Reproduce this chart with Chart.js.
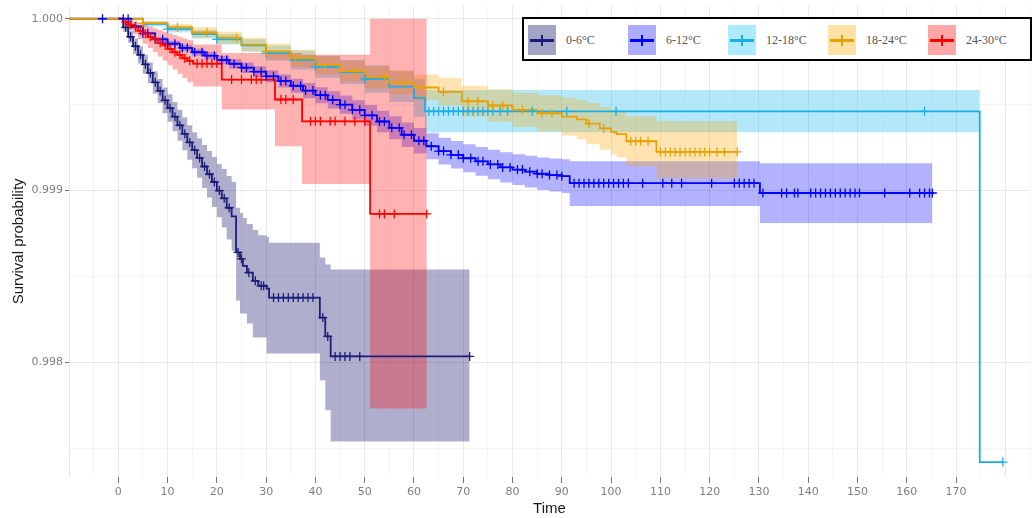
<!DOCTYPE html>
<html>
<head>
<meta charset="utf-8">
<title>Survival probability by temperature</title>
<script src="https://cdn.jsdelivr.net/npm/chart.js@4.4.0/dist/chart.umd.min.js"></script>
<style>
  body { margin: 0; background: #fff; }
  #wrap { position: relative; width: 1036px; height: 518px; }
  #legend { position: absolute; left: 522px; top: 17px; width: 506px; height: 40px; border: 2px solid #000; background: #fff; }
  .item { position: absolute; top: 6px; height: 30px; width: 100px; }
  .swatch { position: absolute; left: 0; top: 0; width: 28px; height: 30px; }
  .swatch .h { position: absolute; left: 2px; right: 2px; top: 14px; height: 2.5px; }
  .swatch .v { position: absolute; left: 13px; top: 10px; width: 2px; height: 11px; }
  .lbl { position: absolute; left: 38px; top: 8px; font: 12px 'Liberation Serif', serif; color: #555; white-space: nowrap; }
</style>
</head>
<body>
<div id="wrap">
  <canvas id="survChart" width="1036" height="518"></canvas>
  <div id="legend"></div>
</div>
<script>
// ── Groups & colours ──
const groups      = ['0-6°C', '6-12°C', '12-18°C', '18-24°C', '24-30°C'];
const lineColors  = ['#1c1c7a', '#0000ff', '#1aaee6', '#e8a200', '#ff0000'];
const bandColors  = ['rgba(25,25,112,0.35)', 'rgba(0,0,255,0.3)', 'rgba(0,180,240,0.3)', 'rgba(255,165,0,0.3)', 'rgba(255,0,0,0.3)'];
const swatchColors = ['rgba(25,25,112,0.4)', 'rgba(0,0,255,0.32)', 'rgba(0,190,250,0.32)', 'rgba(255,170,0,0.35)', 'rgba(255,0,0,0.35)'];

// ── Axis ticks ──
const xTicks = [0, 10, 20, 30, 40, 50, 60, 70, 80, 90, 100, 110, 120, 130, 140, 150, 160, 170];
const yTicks = [0.998, 0.999, 1.000];
const yTickLabels = ['0.998', '0.999', '1.000'];

// ── 0-6°C ──
const t06  = [0,1,2,3,4,5,6,7,8,9,10,11,12,13,14,15,16,17,18,19,20,21,22,23,23.9,24.7,25.3,26.1,27.3,28.4,30.1,30.6,40.9,42.0,43.1,71.3];
const s06  = [1,0.99995,0.999895,0.99984,0.99979,0.999735,0.999685,0.99963,0.99958,0.999525,0.99948,0.99943,0.99938,0.99933,0.99928,0.999235,0.99919,0.99914,0.999095,0.99905,0.999,0.998955,0.9989,0.99885,0.99864,0.998603,0.998562,0.998522,0.998475,0.998446,0.998429,0.998377,0.998261,0.998151,0.998035,0.998035];
const hi06 = [1,0.999975,0.99993,0.999885,0.99984,0.99979,0.999745,0.999695,0.99965,0.9996,0.99956,0.999515,0.99947,0.999425,0.99938,0.99934,0.999305,0.999265,0.99923,0.999195,0.999155,0.999125,0.999085,0.99905,0.9989,0.99887,0.99884,0.998806,0.99877,0.99874,0.99873,0.998696,0.99861,0.99857,0.99854,0.99854];
const lo06 = [1,0.999925,0.99986,0.999795,0.99974,0.99968,0.999625,0.999565,0.99951,0.99945,0.9994,0.999345,0.99929,0.999235,0.99918,0.99913,0.999075,0.999015,0.99896,0.998905,0.998845,0.998785,0.998715,0.99865,0.99836,0.998284,0.998284,0.998226,0.998145,0.998145,0.998052,0.998052,0.997896,0.997722,0.99754,0.99754];
const c06  = [1.5,2.5,3.5,4.5,5.5,6.5,7.5,8.5,9.5,10.5,11.5,12.5,13.5,14.5,15.5,16.5,17.5,18.5,19.5,20.5,21.5,22.5,24.3,25,26.5,27.8,29,29.5,31.5,32.5,33.5,34.5,35.5,36.5,37.5,38.5,39.5,41.5,42.5,44,45,46,47,49,71.3];

// ── 6-12°C ──
const t612  = [-10,2.5,5,7.5,10,12.5,15,17.5,20,22.5,25,27.5,30,32.5,35,37.5,40,42.5,45,47.5,50,52.5,55,57.5,60,62.5,65,67.5,70,72.5,75,77.5,80,82.5,85,87.5,90,91.6,130.2,165.2];
const s612  = [1,0.999955,0.999915,0.99988,0.999855,0.99983,0.999805,0.999785,0.99976,0.999738,0.999715,0.999692,0.999665,0.999638,0.99961,0.999582,0.999555,0.999528,0.9995,0.99947,0.999438,0.999402,0.999365,0.999325,0.99929,0.999258,0.99923,0.999208,0.999188,0.99917,0.999152,0.999135,0.999122,0.99911,0.999098,0.99909,0.999084,0.999043,0.998986,0.998986];
const hi612 = [1,0.99996,0.999924,0.999892,0.99987,0.999848,0.999825,0.999807,0.999785,0.999765,0.999745,0.999724,0.9997,0.999676,0.999651,0.999626,0.999602,0.999578,0.999553,0.999526,0.999498,0.999465,0.999432,0.999396,0.999364,0.999334,0.999308,0.999288,0.99927,0.999254,0.999238,0.999223,0.999212,0.999202,0.999192,0.999186,0.999182,0.999171,0.999159,0.999159];
const lo612 = [1,0.99995,0.999906,0.999868,0.99984,0.999812,0.999785,0.999763,0.999735,0.999711,0.999685,0.99966,0.99963,0.9996,0.999569,0.999538,0.999508,0.999478,0.999447,0.999414,0.999378,0.999339,0.999298,0.999254,0.999216,0.999182,0.999152,0.999128,0.999106,0.999086,0.999066,0.999047,0.999032,0.999018,0.999004,0.998994,0.998986,0.99891,0.998812,0.998812];
const c612  = [-3.2,1,2,3.5,5,6,7.5,9,10,11.5,13,14,15.5,17,18,19.5,21,22,23.5,25,26,27.5,29,30,31.5,33,34,35.5,37,38,39.5,41,42,43.5,45,46,47.5,49,50,51.5,53,54,55.5,57,58,59.5,61,62,63.5,65,66,67.5,69,70,71.5,73,74,75.5,77,78,79.5,81,82,83.5,85,86,87.5,89,90,92.5,93.5,94.5,95.5,96.5,97.5,98.5,99.5,100.5,101.5,102.5,103.5,106.4,110.5,112.3,114.3,120.4,125,126,127,128,129,130.8,134.6,135.6,137.2,137.9,140.5,141.5,142.5,143.5,144.5,145.5,146.5,147.5,148.5,149.5,150.4,155.5,160.6,162.6,163.6,164.6,165.2];

// ── 12-18°C ──
const t1218  = [0,5,10,15,20,25,30,35,40,45,50,55,60,62.2,174.8,179.5];
const s1218  = [1,0.99997,0.99994,0.99991,0.99988,0.999845,0.9998,0.99976,0.99972,0.99969,0.99965,0.999605,0.99954,0.999461,0.99742,0.99742];
const tb1218 = [0,5,10,15,20,25,30,35,40,45,50,55,60,62.2,174.8];
const hi1218 = [1,0.999985,0.99996,0.999935,0.99991,0.99988,0.999845,0.999815,0.999785,0.99976,0.99973,0.999695,0.99965,0.999585,0.999585];
const lo1218 = [1,0.999955,0.99992,0.999885,0.99985,0.99981,0.999755,0.999705,0.999655,0.99962,0.99957,0.999515,0.99943,0.99934,0.99934];
const c1218  = [10,20,30,40,50,63,64,65,66,67,68,69,70,71,72,73,74,75,76,77.5,79,84,91,101,163.6,179.5];

// ── 18-24°C ──
const t1824  = [-10,5,10,15,20,25,30,35,40,45,50,55,60,65,69.7,75,80,85,90,93,95,97.7,100,101.1,103.1,109.2,125.6];
const s1824  = [1,0.999975,0.99995,0.99992,0.99989,0.99985,0.99981,0.99977,0.99973,0.999695,0.99966,0.99963,0.9996,0.999575,0.99952,0.999495,0.99947,0.99945,0.99943,0.999414,0.99939,0.999362,0.99934,0.999328,0.999287,0.999225,0.999225];
const hi1824 = [1,0.999985,0.99997,0.99995,0.999925,0.99989,0.999855,0.99982,0.999785,0.999755,0.999725,0.9997,0.999675,0.999655,0.99961,0.99959,0.99957,0.999555,0.99954,0.999529,0.99951,0.999487,0.99947,0.999463,0.999432,0.999403,0.999403];
const lo1824 = [1,0.999965,0.99993,0.99989,0.999855,0.99981,0.999765,0.99972,0.999675,0.999635,0.999595,0.99956,0.999525,0.999495,0.99943,0.9994,0.99937,0.999345,0.99932,0.999299,0.99927,0.999237,0.99921,0.999193,0.999142,0.999072,0.999072];
const c1824  = [5,12,18,24,30,36,42,48,54,58,62,66,71,73,76,78,82,86,88,95.5,98.5,104,105,106,107.5,110,111,112,113,114,115,116,117,118,119,120,121.5,123,125.6];

// ── 24-30°C ──
const t2430  = [0,1,2,3,4,5,6,7,8,9,10,11,12,13,14,15.2,21.0,31.8,37.3,51.1,62.6];
const s2430  = [1,0.99998,0.999965,0.99995,0.99993,0.999913,0.999895,0.99988,0.99986,0.999845,0.999825,0.999805,0.99979,0.99977,0.999755,0.999739,0.999646,0.99953,0.999403,0.998864,0.998864];
const hi2430 = [1,0.999995,0.99999,0.999985,0.999975,0.999965,0.999955,0.999945,0.999935,0.999925,0.999915,0.999905,0.999895,0.999885,0.999875,0.99985,0.9998,0.9998,0.99979,1,1];
const lo2430 = [1,0.99996,0.999935,0.99991,0.99988,0.999855,0.99983,0.999805,0.99978,0.999755,0.99973,0.999705,0.99968,0.999655,0.99963,0.999606,0.999472,0.999258,0.999038,0.997732,0.997732];
const c2430  = [1.5,2.5,3.5,4.5,5.5,6.5,7.5,8.5,9.5,10.5,11.5,12.5,13.5,14.5,16,17,18,19,20,23,25,27,28,29,33,34,35.5,39,40,41,43,44,46,48,50,53,54,56,62.6];

const series = [
  { t: t06,   s: s06,   bt: t06,    hi: hi06,   lo: lo06,   c: c06 },
  { t: t612,  s: s612,  bt: t612,   hi: hi612,  lo: lo612,  c: c612 },
  { t: t1218, s: s1218, bt: tb1218, hi: hi1218, lo: lo1218, c: c1218 },
  { t: t1824, s: s1824, bt: t1824,  hi: hi1824, lo: lo1824, c: c1824 },
  { t: t2430, s: s2430, bt: t2430,  hi: hi2430, lo: lo2430, c: c2430 },
];

const toXY = (xs, ys) => xs.map((x, i) => ({ x: x, y: ys[i] }));

// survival at time t (step function, value holds until next event)
function survAt(times, surv, t) {
  let v = surv[0];
  for (let i = 0; i < times.length; i++) {
    if (times[i] <= t) v = surv[i];
  }
  return v;
}

const datasets = [];

/* ── Confidence bands (lower + upper, filled between) ── */
series.forEach((g, i) => {
  datasets.push({
    label: groups[i] + ' lower', data: toXY(g.bt, g.lo),
    borderColor: 'transparent', borderWidth: 0, pointRadius: 0,
    stepped: true, fill: false, order: 30 - i
  });
  datasets.push({
    label: groups[i] + ' upper', data: toXY(g.bt, g.hi),
    borderColor: 'transparent', borderWidth: 0, pointRadius: 0,
    stepped: true, fill: '-1', backgroundColor: bandColors[i], order: 30 - i
  });
});

/* ── Survival curves ── */
series.forEach((g, i) => {
  datasets.push({
    label: groups[i], data: toXY(g.t, g.s),
    borderColor: lineColors[i], borderWidth: 1.8, pointRadius: 0,
    stepped: true, fill: false, order: 20 - i
  });
});

/* ── Censor marks ── */
series.forEach((g, i) => {
  datasets.push({
    label: groups[i] + ' censored',
    data: g.c.map(t => ({ x: t, y: survAt(g.t, g.s, t) })),
    showLine: false, pointStyle: 'cross', pointRadius: 4.5,
    pointBorderWidth: 1.3, borderColor: lineColors[i], order: 10 - i
  });
});

const isMajorX = v => Math.abs(v / 10 - Math.round(v / 10)) < 1e-6 && xTicks.includes(Math.round(v));
const yMajorIdx = v => yTicks.findIndex(t => Math.abs(t - v) < 1e-9);

Chart.defaults.font.family = "'DejaVu Sans', sans-serif";

new Chart(document.getElementById('survChart').getContext('2d'), {
  type: 'line',
  data: { datasets },
  options: {
    responsive: false,
    animation: false,
    devicePixelRatio: 1,
    layout: { padding: { top: 0, right: 6, bottom: 0, left: 0 } },
    plugins: { legend: { display: false }, tooltip: { enabled: false } },
    scales: {
      x: {
        type: 'linear', min: -10, max: 185,
        afterFit: s => { s.height = 41; s.paddingLeft = 0; s.paddingRight = 0; },
        afterBuildTicks: s => {
          const ticks = [];
          for (let v = -10; v <= 185; v += 5) ticks.push({ value: v });
          s.ticks = ticks;
        },
        border: { display: false },
        grid: {
          color: ctx => (ctx.tick && Math.abs(ctx.tick.value % 10) < 1e-6) ? 'rgba(0,0,0,0.085)' : 'rgba(0,0,0,0.04)',
          tickColor: ctx => (ctx.tick && isMajorX(ctx.tick.value)) ? '#777' : 'transparent',
          tickLength: 6,
          lineWidth: 1
        },
        ticks: {
          autoSkip: false, maxRotation: 0, padding: 3,
          color: '#7f7f7f', font: { size: 11 },
          callback: v => isMajorX(v) ? String(Math.round(v)) : ''
        },
        title: { display: true, text: 'Time', color: '#1a1a1a',
                 font: { size: 15, family: "'Liberation Sans', sans-serif" }, padding: { top: 0, bottom: 0 } }
      },
      y: {
        type: 'linear', min: 0.997333, max: 1.0000754,
        afterFit: s => { s.width = 69; s.paddingTop = 0; s.paddingBottom = 0; },
        afterBuildTicks: s => {
          const ticks = [];
          for (let k = 0; k <= 5; k++) ticks.push({ value: 0.9975 + k * 0.0005 });
          s.ticks = ticks;
        },
        border: { display: false },
        grid: {
          color: ctx => (ctx.tick && yMajorIdx(ctx.tick.value) >= 0) ? 'rgba(0,0,0,0.085)' : 'rgba(0,0,0,0.04)',
          tickColor: ctx => (ctx.tick && yMajorIdx(ctx.tick.value) >= 0) ? '#777' : 'transparent',
          tickLength: 4,
          lineWidth: 1
        },
        ticks: {
          autoSkip: false, padding: 2,
          color: '#7f7f7f', font: { size: 11 },
          callback: v => { const i = yMajorIdx(v); return i >= 0 ? yTickLabels[i] : ''; }
        },
        title: { display: true, text: 'Survival probability', color: '#1a1a1a',
                 font: { size: 15, family: "'Liberation Sans', sans-serif" }, padding: { top: 10, bottom: 0 } }
      }
    }
  }
});

/* ── Legend (boxed, top right) ── */
const legendEl = document.getElementById('legend');
groups.forEach((name, i) => {
  const item = document.createElement('div');
  item.className = 'item';
  item.style.left = (4 + i * 100) + 'px';
  item.innerHTML =
    '<div class="swatch" style="background:' + swatchColors[i] + '">' +
      '<div class="h" style="background:' + lineColors[i] + '"></div>' +
      '<div class="v" style="background:' + lineColors[i] + '"></div>' +
    '</div>' +
    '<div class="lbl">' + name + '</div>';
  legendEl.appendChild(item);
});
</script>
</body>
</html>
